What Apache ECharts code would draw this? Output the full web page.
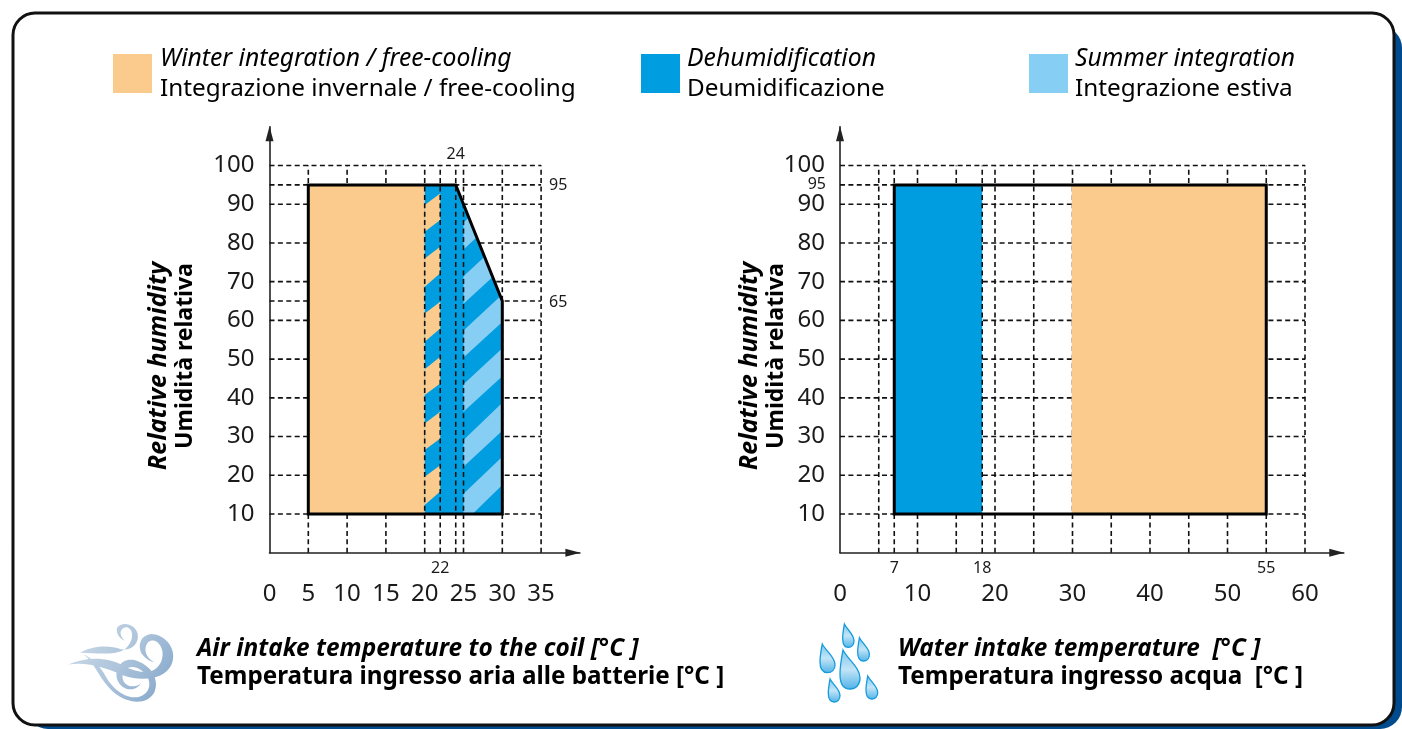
<!DOCTYPE html>
<html><head><meta charset="utf-8">
<style>html,body{margin:0;padding:0;background:#fff}#c{width:1402px;height:729px}</style>
<script src="https://cdn.jsdelivr.net/npm/echarts@6/dist/echarts.min.js"></script>
</head><body><div id="c"></div>
<script>
// ---- colours
const ORANGE='#FBCB8D', BLUE='#009EE0', LIGHT='#87CEF4', INK='#1a1a1a';
const FONT='"Noto Sans"';
// ---- tick labels
const humidityTicks=[10,20,30,40,50,60,70,80,90,100];
const airTicks=[0,5,10,15,20,25,30,35];
const waterTicks=[0,10,20,30,40,50,60];
// ---- dashed guides
const airGuideX=[5,10,15,30,35];
const airGuideXTop=[20,22,24,25];
const airGuideY=[10,20,30,40,50,60,65,70,80,90,95,100];
const waterGuideX=[5,7,10,15,20,25,30,35,40,45,50,55,60];
const waterGuideXTop=[18.35];
const waterGuideY=[10,20,30,40,50,60,70,80,90,95,100];
// ---- operating envelopes
const airOutline=[[5,10],[5,95],[24,95],[30,65],[30,10]];
const airWinter=[[5,10],[5,95],[20,95],[20,10]];
const airBlue=[[20,10],[20,95],[24,95],[30,65],[30,10]];
const waterOutline=[[7,10],[7,95],[55,95],[55,10]];
const waterBlue=[[7,10],[7,95],[18.35,95],[18.35,10]];
const waterWinter=[[29.9,10],[29.9,95],[55,95],[55,10]];
// ---- hatch stripes: [left top, left bottom, right top, right bottom] humidity
const orangeStripes=[[19.6,12.3,22.6,15.8],[33.4,26.5,36.4,29.5],[47.4,40.7,50.6,43.7],[61.8,54.5,64.8,57.9],[76,68.7,79,72.2],[89.8,82.9,92.8,85.9]];
const lightStripes=[[15.2,7.7,24.8,17.5],[29.1,22.2,38.7,31.5],[43.5,36.4,52.8,45.6],[57.4,50.4,66.7,59.6],[71.4,64.3,80.7,73.5],[85.3,78.3,94.6,87.5]];
// ---- small value notes
const airNotesBelow=[[22,'22']], airNotesAbove=[[24,'24']], airNotesRight=[[95,'95'],[65,'65']];
const waterNotesBelow=[[7,'7'],[18.35,'18'],[55,'55']], waterNotesLeft=[[95,'95']];

function clipHalf(poly,inside,cut){
  const out=[];
  poly.forEach((p,i)=>{const q=poly[(i+1)%poly.length];const a=inside(p),b=inside(q);
    if(a)out.push(p); if(a!==b)out.push(cut(p,q));});
  return out;
}
function clipLight(poly){
  const f=p=>95-5*(p[0]-24)-p[1];
  let r=clipHalf(poly,p=>f(p)>=0,(p,q)=>{const t=f(p)/(f(p)-f(q));return [p[0]+t*(q[0]-p[0]),p[1]+t*(q[1]-p[1])];});
  r=clipHalf(r,p=>p[1]>=10,(p,q)=>{const t=(10-p[1])/(q[1]-p[1]);return [p[0]+t*(q[0]-p[0]),10];});
  return r;
}
const orangePolys=orangeStripes.map(s=>[[20,s[0]],[22,s[2]],[22,s[3]],[20,s[1]]]);
const lightPolys=lightStripes.map(s=>clipLight([[25,s[0]],[30,s[2]],[30,s[3]],[25,s[1]]]));

function polys(g,list,style,z){return {type:'custom',xAxisIndex:g,yAxisIndex:g,z,silent:true,clip:false,
  data:list.map((_,i)=>[i]),
  renderItem:(p,api)=>({type:'polygon',shape:{points:list[p.dataIndex].map(c=>api.coord(c))},style})};}
const dash={stroke:'#111',lineWidth:1.6,lineDash:[5,3.4],fill:null};
function lines(g,list,z){return {type:'custom',xAxisIndex:g,yAxisIndex:g,z,silent:true,clip:false,
  data:list.map((_,i)=>[i]),
  renderItem:(p,api)=>{const l=list[p.dataIndex];const a=api.coord([l[0],l[1]]),b=api.coord([l[2],l[3]]);
    return {type:'line',shape:{x1:a[0],y1:a[1],x2:b[0],y2:b[1]},style:dash};}};}
const vert=(xs,top)=>xs.map(x=>[x,0,x,top]);
const horiz=(ys,right)=>ys.map(y=>[0,y,right,y]);
function notes(g,list,toPoint,dx,dy,align){return {type:'custom',xAxisIndex:g,yAxisIndex:g,z:20,silent:true,clip:false,
  data:list.map((_,i)=>[i]),
  renderItem:(p,api)=>{const n=list[p.dataIndex];const c=api.coord(toPoint(n[0]));
    return {type:'text',x:c[0]+dx,y:c[1]+dy,style:{text:n[1],fill:INK,font:'16px '+FONT,textAlign:align,textVerticalAlign:'middle'}};}};}
function outline(g,list){return polys(g,[list],{fill:null,stroke:'#000',lineWidth:3,lineJoin:'miter'},15);}

const dropPath='M15 0C40 25 100 45 100 72C100 90 78 100 50 100C20 100 0 88 0 62C0 40 8 20 15 0Z';
const dropBoxes=[[840,650,20,39],[842.7,624,11.3,23.3],[857.7,637.7,11.7,23.3],[820,644,15,28.7],[828.3,679,11.7,23],[866,676,11.7,23]];
const windPath='M240 160C280 138 330 138 360 150C395 155 415 130 410 105C405 80 370 65 350 85C345 95 350 115 372 125C355 110 355 90 375 85C395 85 400 115 385 135C365 172 300 162 240 160Z'+
 'M205 195C260 185 320 205 370 228C420 245 490 240 510 195C530 150 490 105 450 105C420 108 410 135 420 160C430 175 445 185 458 188C435 175 425 150 440 130C465 110 495 150 480 185C460 230 410 220 370 200C320 172 260 172 205 195Z'+
 'M250 165C285 190 300 250 350 285C385 310 440 315 460 275C475 240 450 195 400 182C360 175 340 210 350 240C360 270 400 280 420 250C395 270 365 255 365 230C365 205 395 190 425 215C455 240 450 280 415 290C370 300 330 260 310 220C290 190 270 175 250 165Z';
const icons={type:'custom',coordinateSystem:'none',silent:true,z:20,data:[[0]],
  renderItem:()=>({type:'group',children:[
    {type:'path',shape:{pathData:windPath,x:68.3,y:624,width:105,height:77.7,layout:'cover'},
     style:{fill:new echarts.graphic.LinearGradient(0,0,1,1,[{offset:0,color:'#d3dfeb'},{offset:.5,color:'#adc4db'},{offset:1,color:'#7fa3c8'}])}},
    ...dropBoxes.map(b=>({type:'path',shape:{pathData:dropPath,x:b[0],y:b[1],width:b[2],height:b[3],layout:'cover'},
     style:{stroke:'#159bdb',lineWidth:1.3,fill:new echarts.graphic.LinearGradient(0,0,0,1,[{offset:0,color:'#7cc6ee'},{offset:.5,color:'#c3e4f7'},{offset:1,color:'#4fb2e7'}])}}))
  ]})};

const axisLine={show:true,onZero:false,symbol:['none','triangle'],symbolSize:[8,15],symbolOffset:[0,-7],lineStyle:{color:'#222',width:1.6}};
function xAxis(g,max,interval,ticks){return {gridIndex:g,type:'value',min:0,max,interval,z:5,
  axisLine,axisTick:{show:false},splitLine:{show:false},
  axisLabel:{show:true,margin:29,fontSize:24,fontFamily:FONT,color:INK,showMinLabel:true,showMaxLabel:true,hideOverlap:false,
    formatter:v=>ticks.includes(v)?String(v):''}};}
function yAxis(g){return {gridIndex:g,type:'value',min:0,max:110,interval:10,z:5,
  axisLine,axisTick:{show:false},splitLine:{show:false},
  axisLabel:{show:true,margin:15,fontSize:24,fontFamily:FONT,color:INK,padding:[6,0,0,0],showMinLabel:true,showMaxLabel:true,hideOverlap:false,
    formatter:v=>humidityTicks.includes(v)?String(v):''}};}

function txt(t,x,y,size,weight,style,extra){return Object.assign({type:'text',z:3,x,y,silent:true,
  style:{text:t,fill:'#000',font:`${style||'normal'} ${weight||'normal'} ${size}px ${FONT}`,textVerticalAlign:'middle'}},extra||{});}
function swatch(x,c){return {type:'rect',z:3,silent:true,shape:{x,y:54,width:39,height:39},style:{fill:c}};}
const rot={rotation:Math.PI/2};
const graphic=[
  {type:'rect',z:-3,silent:true,shape:{x:26,y:26,width:1376,height:703,r:22},style:{fill:'#004b8d'}},
  {type:'rect',z:-2,silent:true,shape:{x:13,y:13,width:1381,height:712,r:22},style:{fill:'#fff',stroke:'#111',lineWidth:3}},
  swatch(113,ORANGE),swatch(641,BLUE),swatch(1029,LIGHT),
  txt('Winter integration / free-cooling',160,58.5,24.7,'normal','italic'),
  txt('Integrazione invernale / free-cooling',160,89.5,24.3),
  txt('Dehumidification',687,58.5,24.8,'normal','italic'),
  txt('Deumidificazione',687,89.5,24.3),
  txt('Summer integration',1075,58.5,24.7,'normal','italic'),
  txt('Integrazione estiva',1075,89.5,24.3),
  txt('Relative humidity',159,366,25,'bold','italic',rot),
  txt('Umidità relativa',185,356,23,'bold','normal',rot),
  txt('Relative humidity',750,366,25,'bold','italic',rot),
  txt('Umidità relativa',776,356,23,'bold','normal',rot),
  txt('Air intake temperature to the coil [°C ]',197,649.5,24.4,'bold','italic'),
  txt('Temperatura ingresso aria alle batterie [°C ]',197,677.5,24.25,'bold'),
  txt('Water intake temperature  [°C ]',898,649.5,24.4,'bold','italic'),
  txt('Temperatura ingresso acqua  [°C ]',898,677.5,24.25,'bold')
];
graphic.forEach(e=>{if(e.rotation){e.style.textAlign='center';}});

const chart=echarts.init(document.getElementById('c'),null,{renderer:'canvas'});
chart.setOption({
  animation:false,backgroundColor:'#fff',graphic:{elements:graphic},
  grid:[{left:269.5,top:126.8,width:310.4,height:425.9},{left:840,top:126.8,width:503.75,height:425.9}],
  xAxis:[xAxis(0,40,5,airTicks),xAxis(1,65,10,waterTicks)],
  yAxis:[yAxis(0),yAxis(1)],
  series:[
    lines(0,[...vert(airGuideX,100),...horiz(airGuideY,35)],6),
    polys(0,[airWinter],{fill:ORANGE},7),
    polys(0,[airBlue],{fill:BLUE},8),
    polys(0,orangePolys,{fill:ORANGE},9),
    polys(0,lightPolys,{fill:LIGHT},9),
    lines(0,vert(airGuideXTop,100),12),
    outline(0,airOutline),
    notes(0,airNotesBelow,v=>[v,0],0,16,'center'),
    notes(0,airNotesAbove,v=>[v,100],0,-11,'center'),
    notes(0,airNotesRight,v=>[35,v],8,1,'left'),
    lines(1,[...vert(waterGuideX,100),...horiz(waterGuideY,60)],6),
    polys(1,[waterBlue],{fill:BLUE},8),
    polys(1,[waterWinter],{fill:ORANGE},8),
    lines(1,vert(waterGuideXTop,100),12),
    outline(1,waterOutline),
    notes(1,waterNotesBelow,v=>[v,0],0,16,'center'),
    notes(1,waterNotesLeft,v=>[0,v],-14,0,'right'),
    icons
  ]
});
</script></body></html>
